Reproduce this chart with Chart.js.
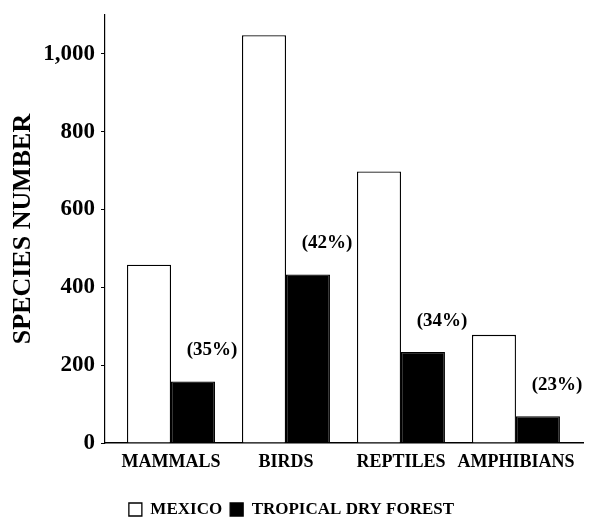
<!DOCTYPE html>
<html>
<head>
<meta charset="utf-8">
<script src="https://cdn.jsdelivr.net/npm/chart.js@4/dist/chart.umd.min.js"></script>
<style>
  html, body { margin: 0; padding: 0; background: #fff; }
  #wrap { width: 589px; height: 532px; }
</style>
</head>
<body>
<div id="wrap"><canvas id="barChart"></canvas></div>
<script>
// values
const groups = ["MAMMALS", "BIRDS", "REPTILES", "AMPHIBIANS"];
const mexico = [458, 1048, 698, 278];
const dryForest = [158, 433, 234, 69];
const shares = ["(35%)", "(42%)", "(34%)", "(23%)"];
const yTicks = [0, 200, 400, 600, 800, 1000];

const serif = "'Liberation Serif', 'Times New Roman', serif";

// percentage labels above the black bars
const shareLabels = {
    id: "shareLabels",
    afterDatasetsDraw(chart) {
        const ctx = chart.ctx;
        const meta = chart.getDatasetMeta(1);
        ctx.save();
        ctx.font = "bold 19px " + serif;
        ctx.fillStyle = "#000";
        ctx.textAlign = "center";
        ctx.textBaseline = "middle";
        meta.data.forEach((bar, i) => {
            ctx.fillText(shares[i], bar.x + 19, bar.y - 31);
        });
        ctx.restore();
    }
};

const ctx = document.getElementById("barChart").getContext("2d");
new Chart(ctx, {
    type: "bar",
    data: {
        datasets: [{
            label: "MEXICO",
            data: mexico.map((v, i) => ({ x: i, y: v })),
            backgroundColor: "#fff",
            borderColor: "#000",
            borderWidth: 1.3
        }, {
            label: "TROPICAL DRY FOREST",
            data: dryForest.map((v, i) => ({ x: i, y: v })),
            backgroundColor: "#000",
            borderColor: "#000",
            borderWidth: 1.3
        }]
    },
    options: {
        responsive: true,
        maintainAspectRatio: false,
        animation: false,
        datasets: { bar: { categoryPercentage: 0.765, barPercentage: 1 } },
        layout: { padding: { top: 15, right: 6, left: 0, bottom: 4 } },
        plugins: {
            tooltip: { enabled: false },
            legend: {
                position: "bottom",
                labels: {
                    color: "#000",
                    font: { family: serif, size: 17, weight: "bold" },
                    boxWidth: 13,
                    boxHeight: 13,
                    padding: 8
                }
            }
        },
        scales: {
            x: {
                type: "linear",
                min: -0.574,
                max: 3.583,
                offset: false,
                bounds: "data",
                grid: { display: false, offset: false },
                border: { display: true, color: "#000", width: 1.5 },
                afterBuildTicks: s => {
                    s.ticks = groups.map((g, i) => ({ value: i }));
                },
                afterFit: s => { s.height = 50; },
                ticks: {
                    autoSkip: false,
                    maxRotation: 0,
                    padding: 1,
                    color: "#000",
                    font: { family: serif, size: 18, weight: "bold" },
                    callback: v => groups[v] || ""
                }
            },
            y: {
                min: 0,
                max: 1100,
                grid: { drawOnChartArea: false, tickLength: 4, color: "#000" },
                border: { display: true, color: "#000", width: 1.2 },
                afterBuildTicks: s => { s.ticks = yTicks.map(v => ({ value: v })); },
                afterFit: s => {
                    s.width = 105;
                    s.paddingTop = 0;
                    s.paddingBottom = 0;
                },
                ticks: {
                    padding: 6,
                    color: "#000",
                    font: { family: serif, size: 23, weight: "bold" },
                    callback: v => v.toLocaleString("en-US")
                },
                title: {
                    display: true,
                    text: "SPECIES NUMBER",
                    color: "#000",
                    font: { family: serif, size: 26, weight: "bold" },
                    padding: { top: 8, bottom: 0 }
                }
            }
        }
    },
    plugins: [shareLabels]
});
</script>
</body>
</html>
